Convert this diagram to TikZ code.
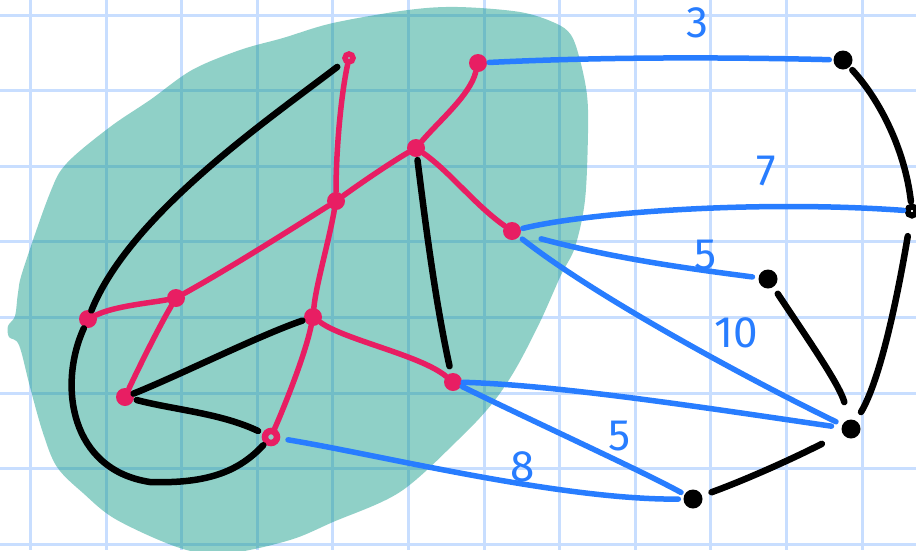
\documentclass[tikz,border=0pt]{standalone}
\usepackage{fontspec}
\setmainfont{Fira Sans}
\definecolor{pinkc}{RGB}{232,30,99}
\definecolor{bluec}{RGB}{40,125,255}
\definecolor{gridc}{RGB}{200,222,255}
\definecolor{blobc}{RGB}{8,151,133}
\definecolor{holec}{RGB}{144,208,200}
\begin{document}
\begin{tikzpicture}[x=1pt,y=-1pt,
  pk/.style={circle,fill=pinkc,inner sep=0pt,minimum size=18pt},
  pkring/.style={circle,draw=pinkc,fill=holec,line width=5.5pt,inner sep=0pt,minimum size=8pt},
  bk/.style={circle,fill=black,inner sep=0pt,minimum size=19pt},
  bkring/.style={circle,draw=black,fill=white,line width=6pt,inner sep=0pt,minimum size=9pt},
  pe/.style={draw=pinkc,line width=5.5pt,line cap=round},
  be/.style={draw=black,line width=6.5pt,line cap=round},
  ue/.style={draw=bluec,line width=5.5pt,line cap=round},
  wt/.style={text=bluec,font=\fontsize{44}{44}\selectfont,inner sep=0pt}
]
\fill[white] (0,0) rectangle (916,550);
\useasboundingbox (0,0) rectangle (916,550);
% grid
\foreach \i in {0,...,11} \draw[gridc,line width=3pt] ({30.5+75.6*\i},0) -- ++(0,550);
\foreach \j in {0,...,7} \draw[gridc,line width=3pt] (0,{15+75.6*\j}) -- ++(916,0);
% blob
\fill[blobc,fill opacity=0.45] plot[smooth cycle,tension=0.55] coordinates {
 (192,70) (240,50) (283,38) (333,23) (408,10) (458,7) (520,12) (555,23) (571,35)
 (580,60) (587,95) (588,133) (585,200) (575,247) (561,275) (540,322) (515,370)
 (491,405) (458,440) (400,492) (333,522) (290,540) (230,553) (183,549) (117,520)
 (83,493) (57,467) (43,433) (30,387) (19,345) (9,337) (8,326) (15,316) (18,293)
 (23,270) (50,193) (67,163) (110,127) (150,100)};
% nodes
\node[pkring] (p1) at (349,58) {};
\node[pk] (p2) at (478,63) {};
\node[pk] (p3) at (416,148) {};
\node[pk] (p4) at (336,201) {};
\node[pk] (p5) at (512,231) {};
\node[pk] (p6) at (176,298) {};
\node[pk] (p7) at (88,319) {};
\node[pk] (p8) at (313,317) {};
\node[pk] (p9) at (453,382) {};
\node[pk] (p10) at (125,397) {};
\node[pkring,minimum size=12pt,line width=6.5pt] (p11) at (271,437) {};
\node[bk] (b1) at (843,60) {};
\node[bkring] (b2) at (912,211) {};
\node[bk] (b3) at (768,279) {};
\node[bk] (b4) at (851,429) {};
\node[bk] (b5) at (693,499) {};
% pink edges
\path[pe] (p1) .. controls (341,95) and (336,150) .. (p4);
\path[pe] (p2) .. controls (470,95) and (440,120) .. (p3);
\path[pe] (p3) .. controls (395,160) and (365,180) .. (p4);
\path[pe] (p3) .. controls (450,172) and (475,205) .. (p5);
\path[pe] (p4) .. controls (290,230) and (230,268) .. (p6);
\path[pe] (p4) .. controls (328,245) and (316,285) .. (p8);
\path[pe] (p6) .. controls (150,303) and (115,306) .. (p7);
\path[pe] (p6) .. controls (160,325) and (140,365) .. (p10);
\path[pe] (p8) .. controls (345,340) and (420,355) .. (p9);
\path[pe] (p8) .. controls (305,355) and (285,405) .. (p11);
% black edges inside
\path[be,shorten <=8pt] (p1) .. controls (265,122) and (130,215) .. (p7);
\path[be,shorten <=3pt,shorten >=7pt] (p3) .. controls (425,220) and (435,300) .. (p9);
\path[be,shorten <=2pt] (p8) .. controls (260,335) and (180,375) .. (p10);
\path[be,shorten <=3pt,shorten >=5pt] (p10) .. controls (175,410) and (220,413) .. (p11);
\path[be,shorten <=1pt,shorten >=2pt] (p7) .. controls (58,385) and (70,470) .. (150,482)
   .. controls (210,484) and (240,470) .. (p11);
% blue edges
\path[ue,shorten <=2pt,shorten >=4pt] (p2) .. controls (600,57) and (720,57) .. (b1);
\path[ue,shorten <=2pt,shorten >=1pt] (p5) .. controls (590,212) and (760,200) .. (b2);
\path[ue,shorten <=21pt,shorten >=6pt] (p5) .. controls (620,260) and (700,270) .. (b3);
\path[ue,shorten <=4pt,shorten >=7pt] (p5) .. controls (600,300) and (760,385) .. (b4);
\path[ue,shorten <=1pt,shorten >=10pt] (p9) .. controls (560,385) and (720,410) .. (b4);
\path[ue,shorten <=1pt,shorten >=4pt] (p9) .. controls (530,420) and (640,470) .. (b5);
\path[ue,shorten <=8pt,shorten >=5pt] (p11) .. controls (380,455) and (560,500) .. (b5);
% black edges outside
\path[be,shorten <=4pt,shorten >=2pt] (b1) .. controls (880,100) and (905,150) .. (b2);
\path[be,shorten <=18pt,shorten >=10pt] (b2) .. controls (897,300) and (880,380) .. (b4);
\path[be,shorten <=8pt,shorten >=18pt] (b3) .. controls (805,335) and (840,385) .. (b4);
\path[be,shorten <=23pt,shorten >=10pt] (b4) .. controls (790,460) and (745,480) .. (b5);
% labels
\node[wt] (l3) at (697,23) {3};
\node[wt] (l7) at (766,171) {7};
\node[wt] (l5a) at (706,255) {5};
\node[wt] (l10) at (736,333) {10};
\node[wt] (l5b) at (620,436) {5};
\node[wt] (l8) at (523,467) {8};
\end{tikzpicture}
\end{document}
